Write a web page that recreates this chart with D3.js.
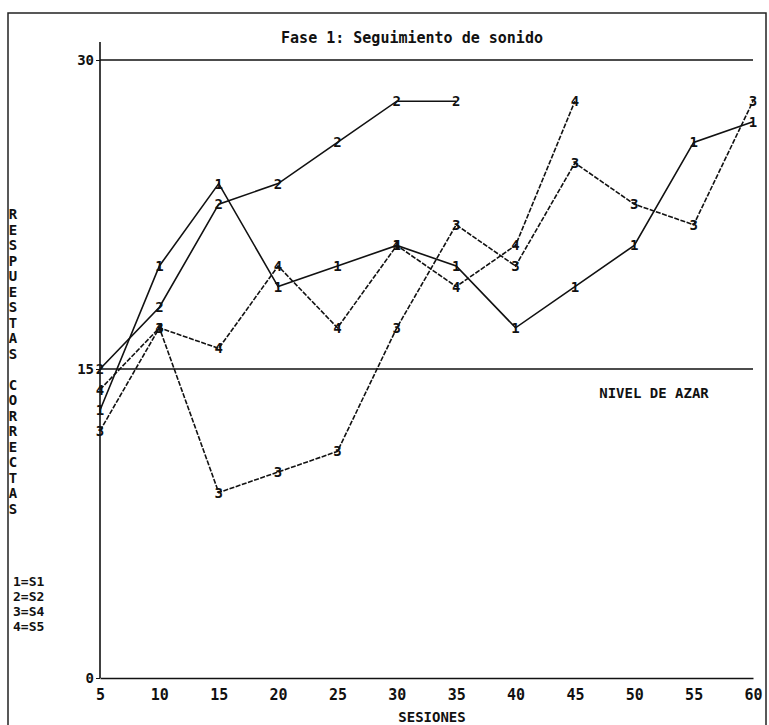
<!DOCTYPE html>
<html>
<head>
<meta charset="utf-8">
<script src="https://cdn.jsdelivr.net/npm/d3@7"></script>
<style>
  body { margin: 0; background: #fff; }
  text { font-family: "DejaVu Sans Mono", monospace; font-weight: bold; fill: #111; }
</style>
</head>
<body>
<svg width="769" height="725"></svg>
<script>
// sessions on the x axis
var sesiones = [5, 10, 15, 20, 25, 30, 35, 40, 45, 50, 55, 60];
// correct responses per subject (marker digit = subject code)
var s1 = [13, 20, 24, 19, 20, 21, 20, 17, 19, 21, 26, 27];
var s2 = [15, 18, 23, 24, 26, 28, 28];
var s3 = [12, 17, 9, 10, 11, 17, 22, 20, 25, 23, 22, 28];
var s5 = [14, 17, 16, 20, 17, 21, 19, 21, 28];
var yTicks = [0, 15, 30];
var leyenda = ["1=S1", "2=S2", "3=S4", "4=S5"];

var series = [
  { code: "1", values: s1, dash: null },
  { code: "2", values: s2, dash: null },
  { code: "3", values: s3, dash: "5,1.5" },
  { code: "4", values: s5, dash: "5,1.5" }
];

var svg = d3.select("svg");

var x = d3.scaleLinear().domain([5, 60]).range([100, 753]);
var y = d3.scaleLinear().domain([0, 30]).range([678, 60]);

// outer frame of the scanned figure
svg.append("rect")
  .attr("x", 8).attr("y", 13).attr("width", 758).attr("height", 730)
  .attr("fill", "none").attr("stroke", "#222").attr("stroke-width", 1.5);

// title
svg.append("text")
  .attr("x", 412).attr("y", 43)
  .attr("text-anchor", "middle")
  .style("font-size", "15px")
  .text("Fase 1: Seguimiento de sonido");

// horizontal reference lines at 30 and 15 (chance level)
svg.selectAll("line.ref")
  .data([30, 15])
  .enter().append("line")
    .attr("class", "ref")
    .attr("x1", x(5)).attr("x2", x(60))
    .attr("y1", function(d) { return y(d); })
    .attr("y2", function(d) { return y(d); })
    .attr("stroke", "#111").attr("stroke-width", 1.6);

svg.append("text")
  .attr("x", 654).attr("y", 398)
  .attr("text-anchor", "middle")
  .style("font-size", "14px")
  .text("NIVEL DE AZAR");

// y axis
svg.append("g")
  .attr("transform", "translate(" + x(5) + ",0)")
  .call(d3.axisLeft(y).tickValues(yTicks).tickSize(4).tickPadding(2).tickFormat(d3.format("d")))
  .call(function(g) {
    g.select(".domain").remove();
    g.selectAll("text").style("font-size", "14px").attr("font-family", null);
    g.selectAll("line").attr("stroke", "#111");
  });
svg.append("line")
  .attr("x1", x(5)).attr("x2", x(5))
  .attr("y1", 42).attr("y2", y(0))
  .attr("stroke", "#111").attr("stroke-width", 1.6);

// x axis
svg.append("g")
  .attr("transform", "translate(0," + y(0) + ")")
  .call(d3.axisBottom(x).tickValues(sesiones).tickSize(0).tickPadding(11).tickFormat(d3.format("d")))
  .call(function(g) {
    g.select(".domain").attr("stroke", "#111").attr("stroke-width", 1.6);
    g.selectAll("text").style("font-size", "15px").attr("font-family", null);
  });

svg.append("text")
  .attr("x", 432).attr("y", 722)
  .attr("text-anchor", "middle")
  .style("font-size", "14px")
  .text("SESIONES");

// vertical y-axis title, letters stacked upright
var titulo = "RESPUESTAS CORRECTAS".split("");
svg.append("g").selectAll("text")
  .data(titulo)
  .enter().append("text")
    .attr("x", 13)
    .attr("y", function(d, i) { return 219 + i * 15.5; })
    .attr("text-anchor", "middle")
    .style("font-size", "14px")
    .text(function(d) { return d; });

// legend
svg.append("g").selectAll("text")
  .data(leyenda)
  .enter().append("text")
    .attr("x", 13)
    .attr("y", function(d, i) { return 586 + i * 15; })
    .style("font-size", "13px")
    .text(function(d) { return d; });

// series lines and digit markers
var line = d3.line()
  .x(function(d, i) { return x(sesiones[i]); })
  .y(function(d) { return y(d); });

var grp = svg.selectAll("g.serie")
  .data(series)
  .enter().append("g").attr("class", "serie");

grp.append("path")
  .attr("d", function(d) { return line(d.values); })
  .attr("fill", "none")
  .attr("stroke", "#111")
  .attr("stroke-width", 1.6)
  .attr("stroke-dasharray", function(d) { return d.dash; });

grp.selectAll("text")
  .data(function(d) { return d.values.map(function(v, i) { return { v: v, i: i, code: d.code }; }); })
  .enter().append("text")
    .attr("x", function(d) { return x(sesiones[d.i]); })
    .attr("y", function(d) { return y(d.v); })
    .attr("dy", "0.35em")
    .attr("text-anchor", "middle")
    .style("font-size", "14px")
    .text(function(d) { return d.code; });
</script>
</body>
</html>
